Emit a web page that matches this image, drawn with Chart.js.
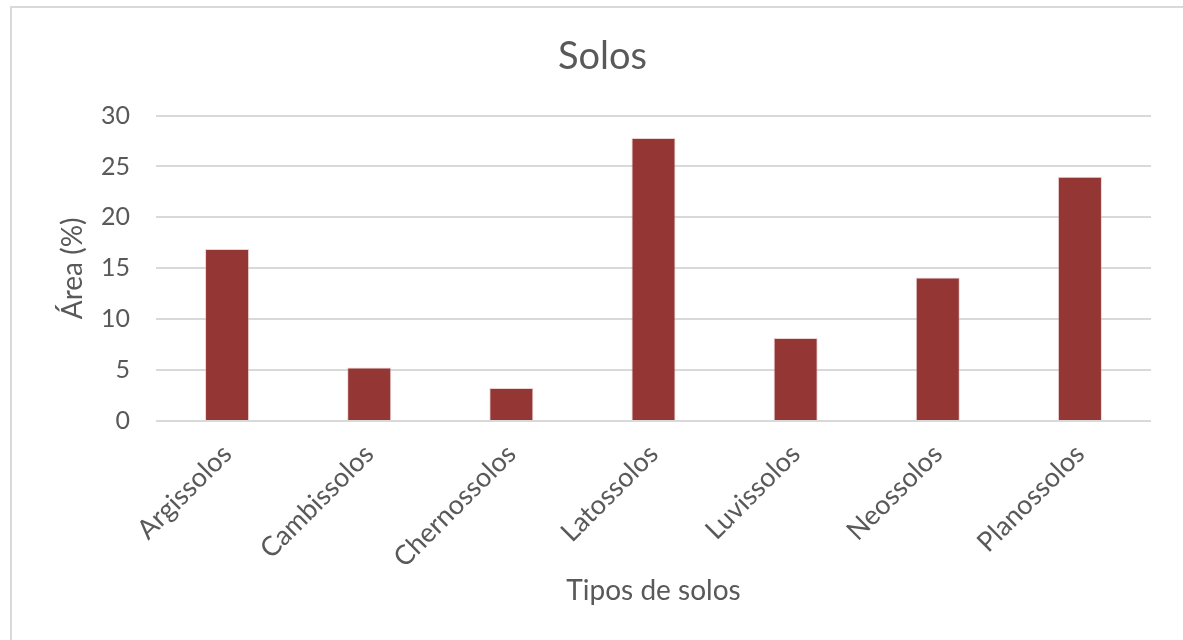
<!DOCTYPE html>
<html lang="pt">
<head>
<meta charset="utf-8">
<title>Solos</title>
<script src="https://cdn.jsdelivr.net/npm/chart.js@4"></script>
<style>
  html, body { margin: 0; padding: 0; background: #fff; }
  body { width: 1183px; height: 640px; position: relative; overflow: hidden; }
  .frame {
    position: absolute; left: 10px; top: 6px; width: 1200px; height: 700px;
    border-left: 2px solid #d9d9d9; border-top: 2px solid #d9d9d9;
  }
  .wrap { position: absolute; left: 0; top: 0; width: 1183px; height: 640px; }
</style>
</head>
<body>
<div class="frame"></div>
<div class="wrap"><canvas id="chartSolos"></canvas></div>
<script>
// dados
const categorias = ['Argissolos', 'Cambissolos', 'Chernossolos', 'Latossolos', 'Luvissolos', 'Neossolos', 'Planossolos'];
const areaPct = [16.9, 5.25, 3.25, 27.8, 8.15, 14.1, 24.0];
const yTicks = [0, 5, 10, 15, 20, 25, 30];

const FONT = 'Lato, "Open Sans", sans-serif';
const GRAY = '#595959';

const ctx = document.getElementById('chartSolos').getContext('2d');
const chart = new Chart(ctx, {
  type: 'bar',
  data: {
    labels: categorias,
    datasets: [{
      label: 'Área (%)',
      data: areaPct,
      backgroundColor: '#943634',
      borderColor: 'rgba(220,170,170,0.5)',
      borderWidth: 1,
      barPercentage: 0.31,
      categoryPercentage: 1
    }]
  },
  options: {
    responsive: true,
    maintainAspectRatio: false,
    animation: false,
    layout: { padding: { top: 34, right: 32, bottom: 28, left: 54 } },
    plugins: {
      legend: { display: false },
      tooltip: { enabled: false },
      title: {
        display: true,
        text: 'Solos',
        color: GRAY,
        font: { family: FONT, size: 38, weight: 'normal' },
        padding: { top: 0, bottom: 36 }
      }
    },
    scales: {
      x: {
        afterFit: axis => { axis.height = 191; },
        grid: { display: false },
        border: { display: false },
        ticks: {
          color: GRAY,
          font: { family: FONT, size: 27 },
          maxRotation: 45,
          minRotation: 45,
          padding: 9
        },
        title: {
          display: true,
          text: 'Tipos de solos',
          color: GRAY,
          font: { family: FONT, size: 28 },
          padding: { top: 4, bottom: 4 }
        }
      },
      y: {
        min: 0,
        max: 30,
        afterBuildTicks: axis => { axis.ticks = yTicks.map(v => ({ value: v })); },
        afterFit: axis => { axis.width = 102; },
        grid: { color: '#d9d9d9', lineWidth: 2, drawTicks: false },
        border: { display: false },
        ticks: {
          color: GRAY,
          font: { family: FONT, size: 25 },
          padding: 26
        },
        title: {
          display: true,
          text: 'Área (%)',
          color: GRAY,
          font: { family: FONT, size: 28 },
          padding: { top: 2, bottom: 2 }
        }
      }
    }
  }
});
</script>
</body>
</html>
